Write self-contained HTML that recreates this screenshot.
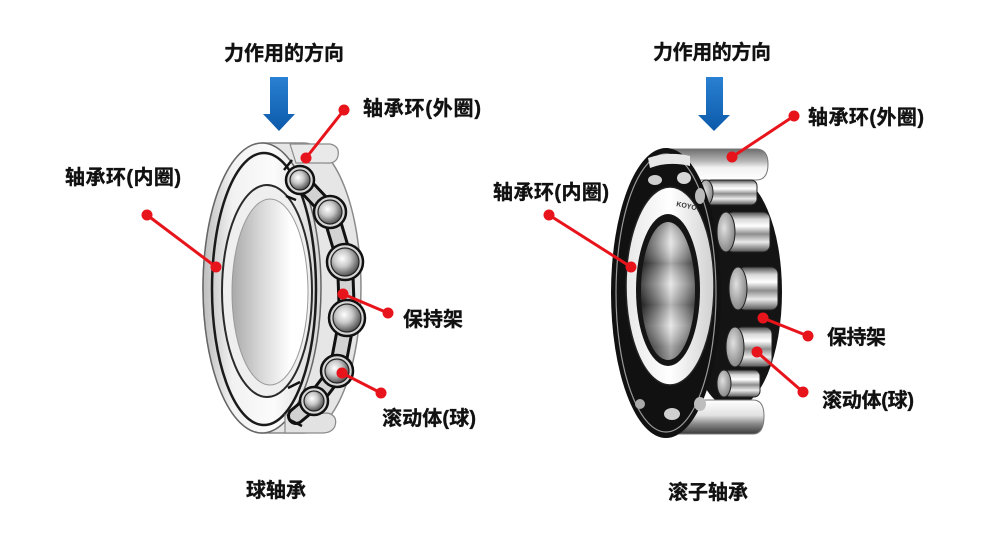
<!DOCTYPE html>
<html>
<head>
<meta charset="utf-8">
<style>
  html,body{margin:0;padding:0;background:#fff;}
  svg{display:block;}
  text{font-family:"Liberation Sans","Noto Sans CJK SC",sans-serif;font-weight:700;fill:#111;stroke:#111;stroke-width:0.35px;}
</style>
</head>
<body>
<svg width="1000" height="534" viewBox="0 0 1000 534" xmlns="http://www.w3.org/2000/svg">
  <defs>
    <linearGradient id="blue" x1="0" y1="0" x2="0" y2="1">
      <stop offset="0" stop-color="#2a80d2"/>
      <stop offset="1" stop-color="#0c5aaa"/>
    </linearGradient>
    <linearGradient id="faceL" x1="0" y1="0" x2="1" y2="0">
      <stop offset="0" stop-color="#bdbdbd"/>
      <stop offset="0.25" stop-color="#f2f2f2"/>
      <stop offset="0.6" stop-color="#fbfbfb"/>
      <stop offset="1" stop-color="#d6d6d6"/>
    </linearGradient>
    <linearGradient id="boreL" x1="0" y1="0" x2="1" y2="0">
      <stop offset="0" stop-color="#a9a9a9"/>
      <stop offset="0.35" stop-color="#d4d4d4"/>
      <stop offset="0.6" stop-color="#eeeeee"/>
      <stop offset="0.78" stop-color="#ffffff"/>
      <stop offset="1" stop-color="#ffffff"/>
    </linearGradient>
    <radialGradient id="ball" cx="0.4" cy="0.38" r="0.65">
      <stop offset="0" stop-color="#ffffff"/>
      <stop offset="0.45" stop-color="#c9c9c9"/>
      <stop offset="1" stop-color="#4a4a4a"/>
    </radialGradient>
    <linearGradient id="bandTop" x1="0" y1="0" x2="0" y2="1">
      <stop offset="0" stop-color="#6d6d6d"/>
      <stop offset="0.4" stop-color="#b8b8b8"/>
      <stop offset="0.6" stop-color="#f2f2f2"/>
      <stop offset="1" stop-color="#ffffff"/>
    </linearGradient>
    <linearGradient id="bandBot" x1="0" y1="0" x2="0" y2="1">
      <stop offset="0" stop-color="#ffffff"/>
      <stop offset="0.45" stop-color="#e2e2e2"/>
      <stop offset="0.7" stop-color="#8a8a8a"/>
      <stop offset="1" stop-color="#3a3a3a"/>
    </linearGradient>
    <linearGradient id="roller" x1="0" y1="0" x2="0" y2="1">
      <stop offset="0" stop-color="#4a4a4a"/>
      <stop offset="0.18" stop-color="#d8d8d8"/>
      <stop offset="0.35" stop-color="#ffffff"/>
      <stop offset="0.55" stop-color="#8e8e8e"/>
      <stop offset="0.75" stop-color="#eaeaea"/>
      <stop offset="1" stop-color="#555555"/>
    </linearGradient>
    <radialGradient id="cap" cx="0.4" cy="0.4" r="0.7">
      <stop offset="0" stop-color="#e0e0e0"/>
      <stop offset="1" stop-color="#7a7a7a"/>
    </radialGradient>
    <linearGradient id="boreR" x1="0" y1="0" x2="1" y2="0">
      <stop offset="0" stop-color="#2a2a2a"/>
      <stop offset="0.3" stop-color="#8a8a8a"/>
      <stop offset="0.55" stop-color="#e4e4e4"/>
      <stop offset="0.8" stop-color="#9a9a9a"/>
      <stop offset="1" stop-color="#555"/>
    </linearGradient>
    <linearGradient id="boreStripe" x1="0" y1="0" x2="0" y2="1">
      <stop offset="0" stop-color="#000" stop-opacity="0.25"/>
      <stop offset="0.15" stop-color="#fff" stop-opacity="0.1"/>
      <stop offset="0.3" stop-color="#000" stop-opacity="0.25"/>
      <stop offset="0.45" stop-color="#fff" stop-opacity="0.15"/>
      <stop offset="0.6" stop-color="#000" stop-opacity="0.2"/>
      <stop offset="0.75" stop-color="#fff" stop-opacity="0.15"/>
      <stop offset="0.9" stop-color="#000" stop-opacity="0.25"/>
      <stop offset="1" stop-color="#000" stop-opacity="0.35"/>
    </linearGradient>
    <linearGradient id="innerFaceR" x1="0" y1="0" x2="1" y2="0">
      <stop offset="0" stop-color="#e8e8e8"/>
      <stop offset="0.5" stop-color="#ffffff"/>
      <stop offset="1" stop-color="#d0d0d0"/>
    </linearGradient>
  </defs>

  <rect width="1000" height="534" fill="#fff"/>

  <!-- ================= LEFT: BALL BEARING ================= -->
  <path d="M262,143 L303,143 A58,145 0 0 1 303,433 L262,433 A59,145 0 0 1 262,143Z" fill="#e6e6e6" stroke="#8a8a8a" stroke-width="1.5"/>
  <ellipse cx="262" cy="288" rx="59" ry="145" fill="url(#faceL)" stroke="#666" stroke-width="1.5"/>
  <ellipse cx="264" cy="289" rx="52" ry="136" fill="none" stroke="#1a1a1a" stroke-width="2.5"/>
  <ellipse cx="267" cy="291" rx="45" ry="106" fill="#efefef" stroke="#2a2a2a" stroke-width="2"/>
  <ellipse cx="270" cy="292" rx="38" ry="93" fill="url(#boreL)" stroke="#9a9a9a" stroke-width="1"/>

  <path d="M290,144 L330,144 Q340,146 338,156 Q336,164 326,163 L296,163 Z" fill="#e9e9e9" stroke="#8a8a8a" stroke-width="1.2"/>
  <path d="M285,415 L328,413 Q338,416 335,426 Q332,433 322,433 L285,433 Z" fill="#e2e2e2" stroke="#8a8a8a" stroke-width="1.2"/>

  <polyline points="298,178 330,212 345,262 347,318 337,371 314,401 296,416" fill="none" stroke="#111" stroke-width="18" stroke-linejoin="round" stroke-linecap="round"/>
  <polyline points="298,178 330,212 345,262 347,318 337,371 314,401 296,416" fill="none" stroke="#d2d2d2" stroke-width="12" stroke-linejoin="round" stroke-linecap="round"/>
  <g stroke="#111" stroke-width="2.5" fill="#d6d6d6">
    <circle cx="300" cy="180" r="14"/>
    <circle cx="330" cy="212" r="16"/>
    <circle cx="345" cy="262" r="18"/>
    <circle cx="347" cy="318" r="18"/>
    <circle cx="337" cy="371" r="16"/>
    <circle cx="314" cy="401" r="14"/>
  </g>
  <g stroke="#222" stroke-width="1.2" fill="url(#ball)">
    <circle cx="300" cy="180" r="10"/>
    <circle cx="330" cy="212" r="12"/>
    <circle cx="345" cy="262" r="14"/>
    <circle cx="347" cy="318" r="14"/>
    <circle cx="337" cy="371" r="12"/>
    <circle cx="314" cy="401" r="10"/>
  </g>
  <path d="M284,170 L292,160 M286,196 L296,200 M288,388 L300,382 M290,420 L302,426" stroke="#111" stroke-width="2.5" fill="none"/>

  <!-- ================= RIGHT: ROLLER BEARING ================= -->
  <ellipse cx="733" cy="292" rx="49" ry="116" fill="#141414"/>
  <path d="M662,149 L756,149 Q768,149 768,164 Q768,180 756,180 L662,180 Z" fill="url(#bandTop)" stroke="#777" stroke-width="1"/>
  <path d="M662,400 L753,400 Q764,400 764,416 Q764,434 753,434 L662,434 Z" fill="url(#bandBot)" stroke="#777" stroke-width="1"/>
  <g>
    <rect x="706" y="180" width="51" height="25" rx="6" fill="url(#roller)" stroke="#222" stroke-width="1"/>
    <ellipse cx="706" cy="192.5" rx="7" ry="12.5" fill="url(#cap)" stroke="#222" stroke-width="1"/>
    <rect x="726" y="212" width="44" height="40" rx="7" fill="url(#roller)" stroke="#222" stroke-width="1"/>
    <ellipse cx="726" cy="232" rx="9" ry="20" fill="url(#cap)" stroke="#222" stroke-width="1"/>
    <rect x="738" y="267" width="40" height="43" rx="7" fill="url(#roller)" stroke="#222" stroke-width="1"/>
    <ellipse cx="738" cy="288.5" rx="9" ry="21.5" fill="url(#cap)" stroke="#222" stroke-width="1"/>
    <rect x="735" y="327" width="37" height="40" rx="7" fill="url(#roller)" stroke="#222" stroke-width="1"/>
    <ellipse cx="735" cy="347" rx="9" ry="20" fill="url(#cap)" stroke="#222" stroke-width="1"/>
    <rect x="724" y="370" width="36" height="27" rx="6" fill="url(#roller)" stroke="#222" stroke-width="1"/>
    <ellipse cx="724" cy="383.5" rx="7" ry="13.5" fill="url(#cap)" stroke="#222" stroke-width="1"/>
  </g>
  <ellipse cx="666" cy="293" rx="55" ry="145" fill="#111"/>
  <ellipse cx="666" cy="293" rx="50" ry="139" fill="none" stroke="#bdbdbd" stroke-width="1.2" opacity="0.8"/>
  <path d="M648,158 Q668,151 690,156 L690,166 Q668,161 650,168 Z" fill="#e6e6e6"/>
  <ellipse cx="655" cy="180" rx="7" ry="5" fill="#cfcfcf"/>
  <ellipse cx="684" cy="178" rx="7" ry="6" fill="#d8d8d8"/>
  <ellipse cx="700" cy="196" rx="5" ry="8" fill="#bbb"/>
  <ellipse cx="672" cy="414" rx="8" ry="6" fill="#d0d0d0"/>
  <ellipse cx="700" cy="404" rx="6" ry="7" fill="#bdbdbd"/>
  <ellipse cx="640" cy="404" rx="5" ry="5" fill="#aaa"/>
  <ellipse cx="670" cy="286" rx="44" ry="99" fill="url(#innerFaceR)" stroke="#222" stroke-width="1.5"/>
  <ellipse cx="668" cy="290" rx="32" ry="76" fill="#151515"/>
  <ellipse cx="668" cy="291" rx="27" ry="69" fill="url(#boreR)"/>
  <ellipse cx="668" cy="291" rx="27" ry="69" fill="url(#boreStripe)"/>
  <text x="676" y="206" style="font-size:7px;fill:#333;stroke:none" transform="rotate(12 676 206)">KOYO</text>

  <!-- ================= BLUE ARROWS ================= -->
  <path d="M270,77 L288,77 L288,114 L295,114 L279,131 L263,114 L270,114 Z" fill="url(#blue)"/>
  <path d="M706,77 L723,77 L723,115 L730,115 L714,131 L698,115 L706,115 Z" fill="url(#blue)"/>

  <!-- ================= RED LEADERS ================= -->
  <g stroke="#e8141c" stroke-width="3" stroke-linecap="round">
    <line x1="344" y1="110" x2="306" y2="158"/>
    <line x1="147" y1="215" x2="216" y2="267"/>
    <line x1="388" y1="313" x2="343" y2="294"/>
    <line x1="381" y1="393" x2="342" y2="373"/>
    <line x1="794" y1="116" x2="732" y2="157"/>
    <line x1="549" y1="215" x2="631" y2="267"/>
    <line x1="808" y1="336" x2="763" y2="318"/>
    <line x1="803" y1="392" x2="757" y2="352"/>
  </g>
  <g fill="#e8141c">
    <circle cx="344" cy="110" r="5.5"/><circle cx="306" cy="158" r="5.5"/>
    <circle cx="147" cy="215" r="5.5"/><circle cx="216" cy="267" r="5.5"/>
    <circle cx="388" cy="313" r="5.5"/><circle cx="343" cy="294" r="5.5"/>
    <circle cx="381" cy="393" r="5.5"/><circle cx="342" cy="373" r="5.5"/>
    <circle cx="794" cy="116" r="5.5"/><circle cx="732" cy="157" r="5.5"/>
    <circle cx="549" cy="215" r="5.5"/><circle cx="631" cy="267" r="5.5"/>
    <circle cx="808" cy="336" r="5.5"/><circle cx="763" cy="318" r="5.5"/>
    <circle cx="803" cy="392" r="5.5"/><circle cx="757" cy="352" r="5.5"/>
  </g>

  <!-- ================= LABELS ================= -->
  <g style="font-size:20px">
    <text x="224" y="60" textLength="120">力作用的方向</text>
    <text x="653" y="59" textLength="118">力作用的方向</text>
    <text x="363" y="115" textLength="118">轴承环(外圈)</text>
    <text x="808" y="124" textLength="116">轴承环(外圈)</text>
    <text x="65" y="184" textLength="116">轴承环(内圈)</text>
    <text x="493" y="199" textLength="116">轴承环(内圈)</text>
    <text x="403" y="326" textLength="60">保持架</text>
    <text x="382" y="425" textLength="94">滚动体(球)</text>
    <text x="827" y="344" textLength="59">保持架</text>
    <text x="822" y="407" textLength="92">滚动体(球)</text>
    <text x="246" y="497" textLength="60">球轴承</text>
    <text x="668" y="499" textLength="80">滚子轴承</text>
  </g>
</svg>
</body>
</html>
